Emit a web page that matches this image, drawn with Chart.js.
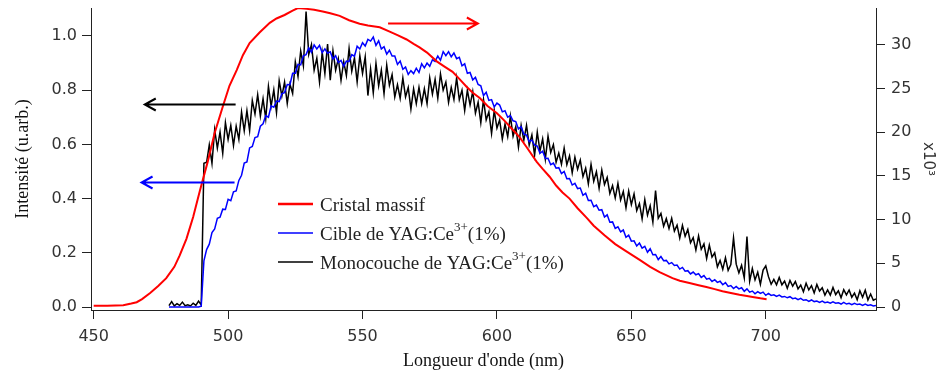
<!DOCTYPE html>
<html>
<head>
<meta charset="utf-8">
<script src="https://cdn.jsdelivr.net/npm/chart.js@4.4.0/dist/chart.umd.min.js"></script>
<style>
  html, body { margin: 0; padding: 0; background: #fff; }
</style>
</head>
<body>
<canvas id="spectre" width="938" height="376"></canvas>
<script>
// Cristal massif : axe de droite (x10^3)
const redWl = [450, 455, 461, 464, 466, 468, 471, 474, 477, 480, 482, 484.5, 487, 489.5, 492.4, 495, 498, 500.5, 503.2, 505.5,
  508, 511.7, 515.5, 518, 521, 524, 526, 529.2, 532, 535.2, 538, 541.5, 545, 548.9, 552, 556.4, 560.1, 563, 566.4, 569,
  571.2, 574, 577.6, 580.5, 583.5, 586, 588.7, 591, 593.6, 596.5, 599.9, 602.5, 605.8, 608.5, 611, 614.8, 617, 619.6, 622, 624.4,
  627, 630, 633.4, 636, 640, 644, 648, 653.1, 657, 660.5, 665.3, 668, 671.6, 675, 677.9, 681, 683.9, 687, 690.2, 693,
  695.1, 698, 700.3];
const redVal = [0.15, 0.15, 0.2, 0.4, 0.55, 0.9, 1.6, 2.4, 3.3, 4.6, 5.9, 7.8, 10.3, 13.3, 16.6, 19.9, 22.9, 25.3, 27.1, 28.8,
  30.2, 31.4, 32.5, 33.0, 33.4, 33.9, 34.2, 34.1, 34.0, 33.8, 33.6, 33.3, 32.8, 32.4, 32.2, 32.0, 31.5, 31.1, 30.6, 30.1,
  29.7, 29.1, 28.1, 27.5, 26.9, 26.1, 25.2, 24.5, 23.9, 23.0, 22.2, 21.4, 20.3, 19.4, 18.3, 16.6, 15.8, 14.9, 13.9, 13.1,
  12.4, 11.3, 10.2, 9.3, 8.2, 7.2, 6.4, 5.4, 4.6, 4.0, 3.3, 3.0, 2.75, 2.5, 2.3, 2.05, 1.8, 1.6, 1.4, 1.25,
  1.15, 1.0, 0.9];

// spectres des couches : un point par nm a partir de 478 nm
const specStart = 478;
const blueVal = [
  0, 0, 0, 0, 0, 0, 0, 0, 0, 0, 0, 0, 0.003,
  0.17, 0.212, 0.232, 0.275, 0.288, 0.327, 0.331, 0.361, 0.36, 0.397,
  0.392, 0.425, 0.428, 0.467, 0.486, 0.531, 0.535, 0.587, 0.592, 0.625,
  0.628, 0.667, 0.676, 0.706, 0.70, 0.742, 0.737, 0.76, 0.758, 0.787,
  0.791, 0.821, 0.82, 0.862, 0.862, 0.895, 0.893, 0.927, 0.931, 0.956,
  0.94, 0.967, 0.952, 0.965, 0.938, 0.952, 0.936, 0.941, 0.915, 0.927,
  0.902, 0.91, 0.888, 0.907, 0.906, 0.931, 0.925, 0.962, 0.952, 0.975,
  0.963, 0.987, 0.981, 0.996, 0.965, 0.982, 0.952, 0.96, 0.933, 0.947,
  0.926, 0.926, 0.895, 0.907, 0.877, 0.885, 0.858, 0.872, 0.861, 0.881,
  0.865, 0.897, 0.882, 0.9, 0.888, 0.912, 0.906, 0.926, 0.91, 0.942,
  0.927, 0.942, 0.923, 0.937, 0.916, 0.921, 0.89, 0.897, 0.862, 0.865,
  0.838, 0.847, 0.821, 0.816, 0.78, 0.792, 0.762, 0.765, 0.738, 0.752,
  0.745, 0.72, 0.724, 0.70, 0.706, 0.687, 0.684, 0.657, 0.665, 0.638,
  0.634, 0.61, 0.616, 0.597, 0.594, 0.567, 0.575, 0.548, 0.549, 0.525,
  0.531, 0.512, 0.514, 0.492, 0.50, 0.473, 0.474, 0.45, 0.456, 0.437,
  0.439, 0.412, 0.42, 0.393, 0.394, 0.37, 0.376, 0.357, 0.359, 0.332,
  0.34, 0.313, 0.314, 0.29, 0.296, 0.277, 0.284, 0.257, 0.265, 0.243,
  0.244, 0.225, 0.236, 0.217, 0.224, 0.202, 0.215, 0.193, 0.194, 0.175,
  0.186, 0.171, 0.172, 0.159, 0.164, 0.153, 0.155, 0.14, 0.146, 0.132,
  0.134, 0.122, 0.129, 0.119, 0.123, 0.109, 0.116, 0.103, 0.106, 0.094,
  0.101, 0.091, 0.095, 0.082, 0.09, 0.076, 0.079, 0.068, 0.076, 0.067,
  0.071, 0.058, 0.067, 0.055, 0.059, 0.049, 0.057, 0.05, 0.055, 0.043,
  0.05, 0.043, 0.045, 0.039, 0.044, 0.037, 0.039, 0.034, 0.038, 0.031,
  0.033, 0.027, 0.032, 0.025, 0.027, 0.021, 0.026, 0.02, 0.022, 0.017,
  0.022, 0.016, 0.018, 0.014, 0.019, 0.014, 0.016, 0.011, 0.017, 0.011,
  0.014, 0.009, 0.014, 0.009, 0.011, 0.006, 0.011, 0.006, 0.008, 0.004, 0.006
];
const blackVal = [
  0.005, 0.02, 0.004, 0.012, 0.006, 0.018, 0.005, 0.008, 0.004, 0.014, 0.006, 0.022, 0.008,
  0.53, 0.534, 0.598, 0.53, 0.654, 0.586, 0.646, 0.567, 0.68, 0.618,
  0.67, 0.596, 0.667, 0.618, 0.719, 0.65, 0.724, 0.65, 0.762, 0.712,
  0.783, 0.704, 0.768, 0.695, 0.814, 0.741, 0.801, 0.717, 0.835, 0.778,
  0.83, 0.751, 0.822, 0.788, 0.904, 0.85, 0.944, 0.89, 1.09, 0.932,
  0.968, 0.874, 0.918, 0.83, 0.94, 0.861, 0.97, 0.837, 0.945, 0.874,
  0.916, 0.836, 0.905, 0.854, 0.954, 0.87, 0.919, 0.83, 0.927, 0.862,
  0.923, 0.78, 0.878, 0.79, 0.899, 0.816, 0.874, 0.787, 0.892, 0.818,
  0.857, 0.775, 0.82, 0.77, 0.845, 0.775, 0.81, 0.73, 0.805, 0.75,
  0.81, 0.75, 0.805, 0.75, 0.845, 0.785, 0.84, 0.77, 0.86, 0.80,
  0.83, 0.755, 0.81, 0.765, 0.845, 0.765, 0.80, 0.725, 0.80, 0.745,
  0.795, 0.715, 0.755, 0.68, 0.765, 0.69, 0.72, 0.64, 0.725, 0.66,
  0.69, 0.62, 0.675, 0.629, 0.705, 0.63, 0.665, 0.59, 0.67, 0.615,
  0.67, 0.597, 0.635, 0.56, 0.645, 0.575, 0.62, 0.545, 0.63, 0.57,
  0.599, 0.534, 0.568, 0.527, 0.586, 0.525, 0.558, 0.495, 0.553, 0.508,
  0.542, 0.481, 0.512, 0.454, 0.526, 0.464, 0.499, 0.438, 0.505, 0.452,
  0.478, 0.419, 0.448, 0.402, 0.456, 0.395, 0.426, 0.366, 0.428, 0.378,
  0.417, 0.356, 0.382, 0.325, 0.396, 0.339, 0.374, 0.313, 0.43, 0.327,
  0.345, 0.298, 0.326, 0.289, 0.327, 0.28, 0.302, 0.254, 0.301, 0.261,
  0.286, 0.237, 0.256, 0.21, 0.262, 0.213, 0.233, 0.179, 0.228, 0.184,
  0.2, 0.148, 0.172, 0.139, 0.182, 0.135, 0.157, 0.255, 0.158, 0.126,
  0.154, 0.107, 0.26, 0.095, 0.142, 0.1, 0.128, 0.084, 0.136, 0.152,
  0.112, 0.084, 0.102, 0.082, 0.109, 0.082, 0.096, 0.069, 0.098, 0.077,
  0.094, 0.067, 0.081, 0.056, 0.088, 0.063, 0.079, 0.052, 0.083, 0.059,
  0.071, 0.044, 0.063, 0.044, 0.072, 0.046, 0.06, 0.034, 0.064, 0.045,
  0.063, 0.036, 0.051, 0.027, 0.06, 0.036, 0.062, 0.026, 0.048, 0.025, 0.03
];

const xTicks = [450, 500, 550, 600, 650, 700];
const yTicks = [0, 0.2, 0.4, 0.6, 0.8, 1.0];
const y2Ticks = [0, 5, 10, 15, 20, 25, 30];
const seriesLabels = ['Cristal massif', 'Cible de YAG:Ce^3+^(1%)', 'Monocouche de YAG:Ce^3+^(1%)'];

// fleches : quelle courbe va avec quel axe (coordonnees en nm / unites de l'axe de gauche)
const arrows = [
  { from: [502.8, 0.75], to: [469, 0.75], color: '#000000' },
  { from: [502.4, 0.46], to: [467.8, 0.46], color: '#0000ff' },
  { from: [559.5, 1.047], to: [592.9, 1.047], color: '#ff0000' }
];

const specWl = blueVal.map((v, i) => specStart + i);
const pts = (xs, ys) => ys.map((v, i) => ({ x: xs[i], y: v }));

const tickFont = { family: 'DejaVu Sans', size: 16 };
const serif = 'Liberation Serif';

function drawRich(ctx, text, x, y) {
  const parts = text.split('^');
  parts.forEach((p, i) => {
    const sup = i % 2 === 1;
    ctx.font = sup ? '13px "' + serif + '"' : '19px "' + serif + '"';
    ctx.fillText(p, x, sup ? y - 9 : y);
    x += ctx.measureText(p).width;
  });
}

const decor = {
  id: 'decor',
  afterDatasetsDraw(chart) {
    const ctx = chart.ctx, sx = chart.scales.x, sy = chart.scales.y;
    ctx.save();
    arrows.forEach(a => {
      const x0 = sx.getPixelForValue(a.from[0]);
      const x1 = sx.getPixelForValue(a.to[0]);
      const yy = Math.round(sy.getPixelForValue(a.from[1])) + 0.5;
      const dir = Math.sign(x1 - x0);
      ctx.strokeStyle = a.color;
      ctx.lineWidth = 2;
      ctx.beginPath();
      ctx.moveTo(x0, yy); ctx.lineTo(x1, yy);
      ctx.moveTo(x1 - dir * 11, yy - 6); ctx.lineTo(x1, yy); ctx.lineTo(x1 - dir * 11, yy + 6);
      ctx.stroke();
    });

    const area = chart.chartArea;
    const lx = area.left + 187, ly = area.top + 196;
    ctx.textBaseline = 'alphabetic';
    ctx.fillStyle = '#222';
    chart.data.datasets.forEach((ds, i) => {
      const yy = ly + i * 29;
      ctx.strokeStyle = ds.borderColor;
      ctx.lineWidth = i === 0 ? 2.5 : 1.5;
      ctx.beginPath(); ctx.moveTo(lx, yy); ctx.lineTo(lx + 35, yy); ctx.stroke();
      drawRich(ctx, ds.label, lx + 42, yy + 7);
    });
    ctx.restore();
  }
};

const axisGrid = { drawOnChartArea: false, drawTicks: true, tickLength: 9, color: '#222' };
const axisBorder = { display: true, color: '#222', width: 1 };
const noPad = s => { s.paddingTop = 0; s.paddingBottom = 0; };

new Chart(document.getElementById('spectre'), {
  type: 'line',
  data: {
    datasets: [
      { label: seriesLabels[0], data: pts(redWl, redVal), yAxisID: 'y2', borderColor: '#ff0000', borderWidth: 2 },
      { label: seriesLabels[1], data: pts(specWl, blueVal), yAxisID: 'y', borderColor: '#0000ff', borderWidth: 1.5 },
      { label: seriesLabels[2], data: pts(specWl, blackVal), yAxisID: 'y', borderColor: '#000000', borderWidth: 1.5 }
    ]
  },
  options: {
    responsive: false,
    animation: false,
    devicePixelRatio: 1,
    events: [],
    elements: { point: { radius: 0 }, line: { tension: 0, fill: false } },
    layout: { padding: { top: 8, left: 0, right: 0, bottom: 0 } },
    plugins: { legend: { display: false }, tooltip: { enabled: false } },
    scales: {
      x: {
        type: 'linear', position: 'bottom', min: 449, max: 741,
        afterBuildTicks: s => { s.ticks = xTicks.map(v => ({ value: v })); },
        afterFit: s => { s.height = 66; s.paddingLeft = 0; s.paddingRight = 0; },
        grid: axisGrid, border: axisBorder,
        ticks: { color: '#333', font: tickFont, padding: 8, maxRotation: 0 },
        title: { display: true, text: "Longueur d'onde (nm)", color: '#111',
                 font: { family: serif, size: 18 }, padding: { top: 0, bottom: 4 } }
      },
      y: {
        type: 'linear', position: 'left', min: -0.011, max: 1.103,
        afterBuildTicks: s => { s.ticks = yTicks.map(v => ({ value: v })); },
        afterFit: s => { s.width = 91; noPad(s); },
        grid: axisGrid, border: axisBorder,
        ticks: { color: '#333', font: tickFont, padding: 5, callback: v => v.toFixed(1) },
        title: { display: true, text: 'Intensité (u.arb.)', color: '#111',
                 font: { family: serif, size: 18 }, padding: { top: 12, bottom: 0 } }
      },
      y2: {
        type: 'linear', position: 'right', min: -0.34, max: 34.2,
        afterBuildTicks: s => { s.ticks = y2Ticks.map(v => ({ value: v })); },
        afterFit: s => { s.width = 62; noPad(s); },
        grid: axisGrid, border: axisBorder,
        ticks: { color: '#333', font: tickFont, padding: 6 },
        title: { display: true, text: 'x10³', color: '#333',
                 font: { family: 'DejaVu Sans', size: 15 }, padding: { top: 1, bottom: 0 } }
      }
    }
  },
  plugins: [decor]
});
</script>
</body>
</html>
